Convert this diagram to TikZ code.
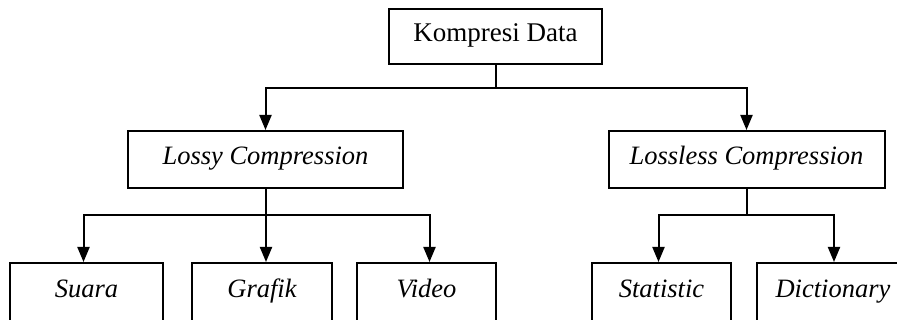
\documentclass[tikz,border=0pt]{standalone}
\usepackage{fontspec}
\setmainfont{Liberation Serif}
\usetikzlibrary{arrows.meta}
\begin{document}
\begin{tikzpicture}[x=1pt,y=-1pt,
  box/.style={draw, line width=2pt, rectangle, inner sep=0pt, align=center,
    text height=17pt, text depth=6pt, font=\fontsize{26.5}{30}\selectfont\itshape},
  conn/.style={line width=2pt},
  arr/.style={line width=2pt, -{Triangle[width=12pt,length=15pt]}}]
\useasboundingbox (0,0) rectangle (897,320);
\clip (0,0) rectangle (897,320);
\fill[white] (0,0) rectangle (897,320);
% nodes
\node[box, font=\fontsize{27}{30}\selectfont, minimum width=213pt, minimum height=55pt] (top) at (495.5,36.5) {Kompresi Data};
\node[box, minimum width=275pt, minimum height=57pt] (lossy) at (265.5,159.5) {Lossy Compression};
\node[box, minimum width=276pt, minimum height=57pt] (lossless) at (746.5,159.5) {Lossless Compression};
\node[box, minimum width=153pt, minimum height=59pt] (suara) at (86.5,292.5) {Suara};
\node[box, minimum width=140pt, minimum height=59pt] (grafik) at (262,292.5) {Grafik};
\node[box, minimum width=139pt, minimum height=59pt] (video) at (426.5,292.5) {Video};
\node[box, minimum width=139pt, minimum height=59pt] (statistic) at (661.5,292.5) {Statistic};
\node[box, minimum width=152pt, minimum height=59pt] (dictionary) at (833,292.5) {Dictionary};
% junctions
\coordinate (jt) at (top.south |- 0,88);
\coordinate (jl) at (lossy.south |- 0,215);
\coordinate (jr) at (lossless.south |- 0,215);
% connectors
\draw[conn] (top.south) -- (jt);
\draw[arr] (jt) -| (lossy.north);
\draw[arr] (jt) -| (lossless.north);
\draw[conn] (lossy.south) -- (jl);
\draw[arr] (jl) -| ([xshift=-3pt]suara.north);
\draw[arr] (jl) -| ([xshift=4pt]grafik.north);
\draw[arr] (jl) -| ([xshift=3pt]video.north);
\draw[conn] (lossless.south) -- (jr);
\draw[arr] (jr) -| ([xshift=-3pt]statistic.north);
\draw[arr] (jr) -| ([xshift=1pt]dictionary.north);
\end{tikzpicture}
\end{document}
